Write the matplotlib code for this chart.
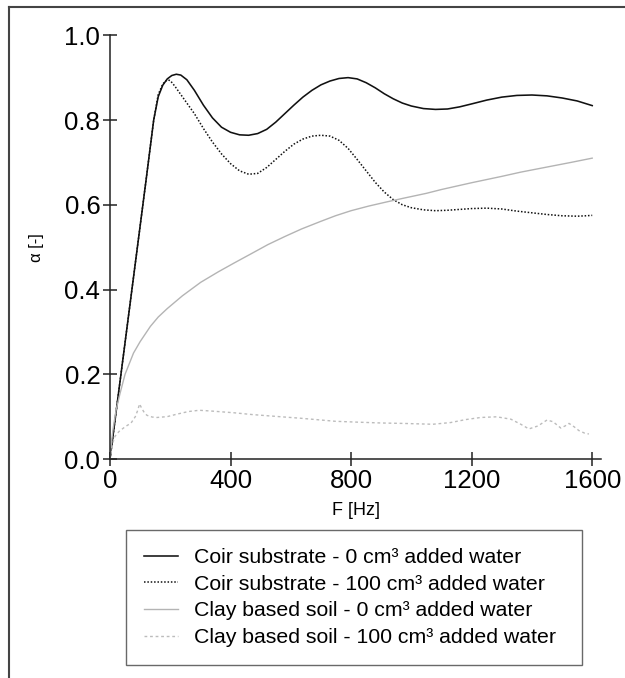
import numpy as np
import matplotlib.pyplot as plt
from matplotlib.lines import Line2D

plt.rcParams['font.family'] = ['Liberation Sans', 'DejaVu Sans']

# coir substrate, 0 cm3 added water
f_coir0 = [0, 40, 80, 120, 145, 160, 175, 190, 205, 220, 235, 255, 280, 310, 340,
           370, 400, 430, 460, 490, 520, 550, 580, 610, 640, 670, 700, 730, 760,
           790, 820, 850, 880, 910, 940, 970, 1000, 1040, 1080, 1120, 1160, 1200,
           1250, 1300, 1350, 1400, 1450, 1500, 1550, 1600]
a_coir0 = [0, 0.22, 0.44, 0.66, 0.80, 0.855, 0.882, 0.897, 0.905, 0.908, 0.906,
           0.895, 0.87, 0.835, 0.805, 0.783, 0.771, 0.765, 0.764, 0.768, 0.778,
           0.795, 0.815, 0.835, 0.854, 0.87, 0.883, 0.892, 0.898, 0.9, 0.897,
           0.888, 0.876, 0.862, 0.85, 0.84, 0.833, 0.827, 0.825, 0.826, 0.831,
           0.838, 0.847, 0.854, 0.858, 0.859, 0.857, 0.852, 0.845, 0.834]

# coir substrate, 100 cm3 added water
f_coir100 = [0, 40, 80, 120, 145, 160, 175, 190, 200, 215, 235, 255, 280, 310, 340,
             370, 400, 430, 460, 490, 520, 550, 580, 610, 640, 670, 700, 730, 760,
             790, 820, 850, 880, 910, 940, 970, 1000, 1040, 1080, 1120, 1160, 1200,
             1250, 1300, 1350, 1400, 1450, 1500, 1550, 1580, 1600]
a_coir100 = [0, 0.22, 0.44, 0.66, 0.80, 0.86, 0.885, 0.895, 0.893, 0.88, 0.86,
             0.84, 0.815, 0.78, 0.748, 0.72, 0.697, 0.68, 0.672, 0.674, 0.688,
             0.707, 0.726, 0.743, 0.755, 0.762, 0.764, 0.762, 0.752, 0.733, 0.707,
             0.68, 0.653, 0.63, 0.612, 0.6, 0.593, 0.588, 0.586, 0.587, 0.589,
             0.591, 0.592, 0.59, 0.585, 0.581, 0.577, 0.574, 0.573, 0.574, 0.575]

# clay based soil, 0 cm3 added water
f_clay0 = [0, 5, 10, 20, 33, 50, 78, 100, 134, 160, 190, 240, 301, 360, 413, 470,
           524, 580, 636, 700, 748, 800, 859, 920, 971, 1050, 1100, 1200, 1300,
           1363, 1450, 1530, 1600]
a_clay0 = [0, 0.04, 0.07, 0.115, 0.154, 0.2, 0.25, 0.277, 0.313, 0.335, 0.355,
           0.385, 0.417, 0.442, 0.463, 0.485, 0.506, 0.525, 0.543, 0.561, 0.574,
           0.586, 0.597, 0.607, 0.615, 0.627, 0.636, 0.652, 0.667, 0.677, 0.689,
           0.70, 0.71]

# clay based soil, 100 cm3 added water
f_clay100 = [0, 8, 17, 30, 50, 70, 84, 92, 98, 105, 115, 123, 140, 156, 190, 223,
             260, 296, 340, 413, 470, 524, 580, 636, 700, 748, 820, 900, 971, 1071,
             1130, 1180, 1230, 1283, 1330, 1363, 1390, 1420, 1450, 1470, 1496,
             1510, 1523, 1540, 1556, 1575, 1589]
a_clay100 = [0, 0.035, 0.054, 0.065, 0.076, 0.085, 0.1, 0.115, 0.13, 0.12, 0.108,
             0.103, 0.099, 0.098, 0.1, 0.106, 0.112, 0.115, 0.113, 0.109, 0.105,
             0.102, 0.099, 0.096, 0.092, 0.089, 0.087, 0.085, 0.084, 0.082, 0.086,
             0.093, 0.098, 0.0996, 0.094, 0.082, 0.071, 0.078, 0.092, 0.088, 0.073,
             0.078, 0.084, 0.076, 0.067, 0.061, 0.059]

labels = ['Coir substrate - 0 cm³ added water',
          'Coir substrate - 100 cm³ added water',
          'Clay based soil - 0 cm³ added water',
          'Clay based soil - 100 cm³ added water']
xticks = [0, 400, 800, 1200, 1600]
yticks = [0.0, 0.2, 0.4, 0.6, 0.8, 1.0]

fig = plt.figure(figsize=(6.25, 6.78), dpi=100)
ax = fig.add_axes([0.176, 0.323, 0.786, 0.625])

ax.plot(f_coir0, a_coir0, color='#111111', lw=1.15, label=labels[0])
ax.plot(f_coir100, a_coir100, color='#111111', lw=1.1, ls=(0, (1, 1.2)), label=labels[1])
ax.plot(f_clay0, a_clay0, color='#b4b4b4', lw=1.0, label=labels[2])
ax.plot(f_clay100, a_clay100, color='#bcbcbc', lw=1.0, ls=(0, (2, 2)), label=labels[3])

ax.set_xlim(0, 1630)
ax.set_ylim(0, 1.0)
ax.spines['top'].set_visible(False)
ax.spines['right'].set_visible(False)
for s in ['left', 'bottom']:
    ax.spines[s].set_linewidth(1.1)
    ax.spines[s].set_color('#222222')
ax.set_xticks(xticks)
ax.set_yticks(yticks)
ax.set_yticklabels(['%.1f' % v for v in yticks])
ax.tick_params(direction='inout', length=10, width=1.1, color='#222222',
               labelsize=18.5, pad=2)
ax.set_xlabel('F [Hz]', fontsize=13, labelpad=7)
ax.set_ylabel('α [-]', fontsize=12, labelpad=15)

# legend box spans x 126..582 px, top at 530 px
leg = fig.legend(loc='upper left',
                 bbox_to_anchor=(126/625, 1 - 530/678 - 0.01, 456/625, 0.01),
                 mode='expand', fontsize=15.3, frameon=True, fancybox=False,
                 handlelength=1.6, handletextpad=0.75, borderpad=0.85,
                 labelspacing=0.36, borderaxespad=0)
leg.get_frame().set_edgecolor('#444444')
leg.get_frame().set_linewidth(1.0)

# frame lines at top and left of the picture
fig.add_artist(Line2D([9/625, 1], [1 - 7/678, 1 - 7/678], transform=fig.transFigure,
                      color='#444444', lw=1.5))
fig.add_artist(Line2D([9/625, 9/625], [0, 1 - 7/678], transform=fig.transFigure,
                      color='#444444', lw=1.5))

fig.savefig('out.png', dpi=100)
